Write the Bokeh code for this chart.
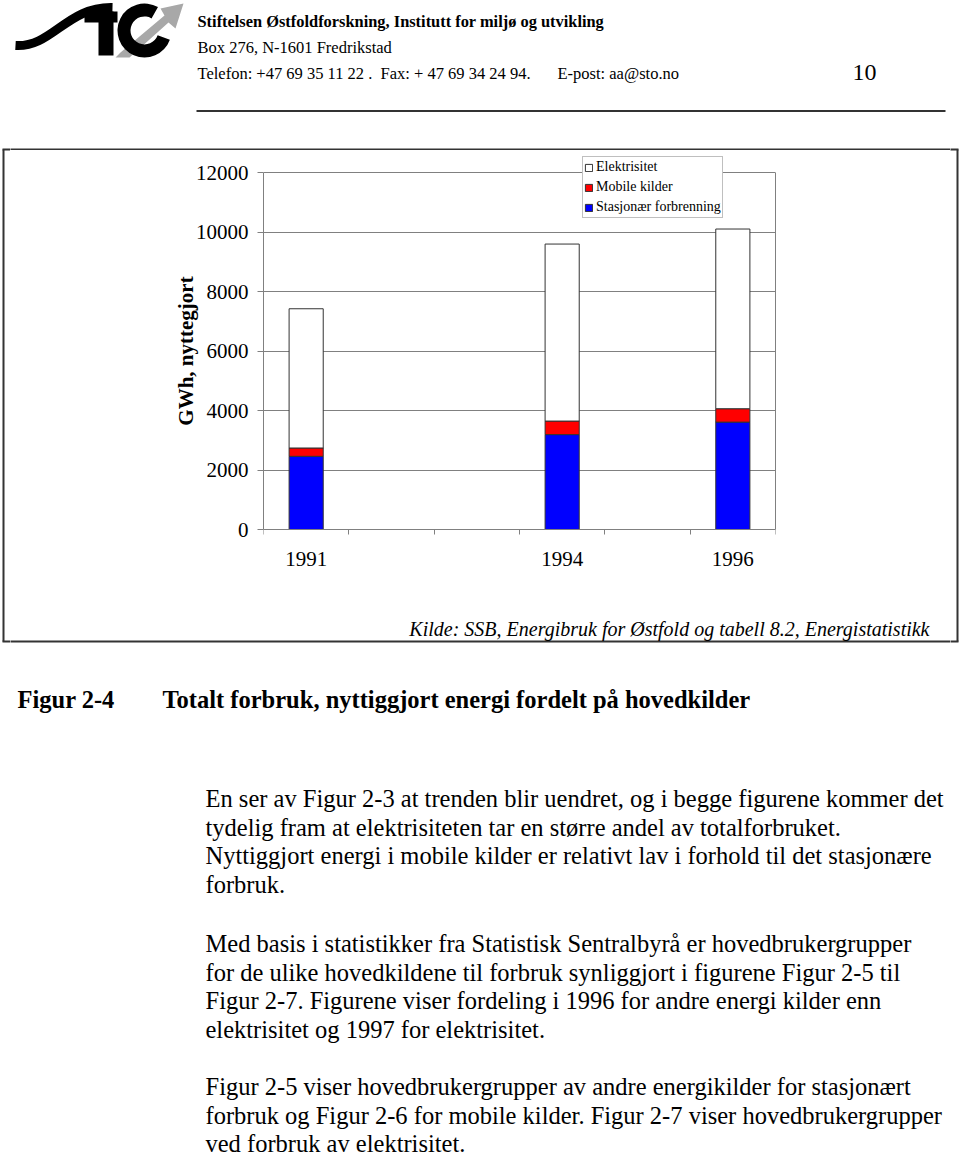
import numpy as np
from bokeh.plotting import figure
from bokeh.models import Range1d, FixedTicker, Legend, LegendItem, ColumnDataSource, LinearAxis
from bokeh.layouts import column, row
from bokeh.embed import file_html
from bokeh.resources import INLINE
from bokeh.core.properties import value

# ---------------- data ----------------
years = [1991, 1994, 1996]
x_tick_labels = ["1991", "1994", "1996"]
stasjonaer = [2460, 3190, 3610]
mobile = [280, 455, 450]
elektrisitet = [4680, 5950, 6040]
series_keys = ["stasjonaer", "mobile", "elektrisitet"]
series_labels = ["Stasjonær forbrenning", "Mobile kilder", "Elektrisitet"]
series_colors = ["#0000FF", "#FF0000", "#FFFFFF"]
y_ticks = [0, 2000, 4000, 6000, 8000, 10000, 12000]
y_axis_title = "GWh, nyttegjort"
source_note = "Kilde: SSB, Energibruk for Østfold og tabell 8.2, Energistatistikk"

header_lines = [
    "Stiftelsen Østfoldforskning, Institutt for miljø og utvikling",
    "Box 276, N-1601 Fredrikstad",
]
contact_parts = ["Telefon: +47  69 35 11 22 .", "Fax:  + 47 69 34 24 94.", "E-post:  aa@sto.no"]
page_number = "10"
fig_label = "Figur 2-4"
fig_title = "Totalt forbruk, nyttiggjort energi fordelt på hovedkilder"
paragraphs = [
    ["En ser av Figur 2-3 at trenden blir uendret, og i begge figurene kommer det",
     "tydelig fram at elektrisiteten tar en større andel av totalforbruket.",
     "Nyttiggjort energi i mobile kilder er relativt lav i forhold til det stasjonære",
     "forbruk."],
    ["Med basis i statistikker fra Statistisk Sentralbyrå er hovedbrukergrupper",
     "for de ulike hovedkildene til forbruk synliggjort i figurene Figur 2-5 til",
     "Figur 2-7. Figurene viser fordeling i 1996 for andre energi kilder enn",
     "elektrisitet og 1997 for elektrisitet."],
    ["Figur 2-5 viser hovedbrukergrupper av andre energikilder for stasjonært",
     "forbruk og Figur 2-6 for mobile kilder. Figur 2-7 viser hovedbrukergrupper",
     "ved forbruk av elektrisitet."],
]

SERIF = "Liberation Serif"
W = 960
H = 1157
SIDE = 10              # width of the narrow side columns that carry the box edges
MID_W = W - 2 * SIDE
BOX_TOP = 149          # page y of the upper edge of the framed box
BOX_BOTTOM = 641       # page y of the lower edge of the framed box
BOX_LEFT = 3
BOX_RIGHT = 957
CHART_TOP = 150        # page y where the chart figure starts
CHART_BOTTOM = 600     # page y where the chart figure ends
FRAME_TOP = 153        # drawing frame (legend reaches above the plot area)
FRAME_BOTTOM = 548     # drawing frame extends equally below, x axis pinned at 0
PLOT_TOP = 172         # plot area top (12000)
PLOT_BOTTOM = 529      # plot area bottom (0)
PLOT_LEFT = 263
PLOT_RIGHT = 775
GRAY = "#808080"
DARK = "#333333"


def blank(w, h, x0, y0):
    f = figure(width=w, height=h, x_range=Range1d(x0, x0 + w), y_range=Range1d(y0 + h, y0),
               x_axis_location=None, y_axis_location=None, toolbar_location=None,
               output_backend="svg", min_border=0)
    f.grid.visible = False
    f.outline_line_color = None
    f.background_fill_color = "white"
    f.border_fill_color = "white"
    return f


# ---------------- side columns with the box edges ----------------
left_side = blank(SIDE, H, 0, 0)
left_side.segment(x0=[BOX_LEFT, BOX_LEFT - 1, BOX_LEFT - 1], y0=[BOX_TOP, BOX_TOP, BOX_BOTTOM],
                  x1=[BOX_LEFT, SIDE + 2, SIDE + 2], y1=[BOX_BOTTOM, BOX_TOP, BOX_BOTTOM],
                  line_color=DARK, line_width=2)
right_side = blank(SIDE, H, W - SIDE, 0)
right_side.segment(x0=[BOX_RIGHT, W - SIDE - 2, W - SIDE - 2], y0=[BOX_TOP, BOX_TOP, BOX_BOTTOM],
                   x1=[BOX_RIGHT, BOX_RIGHT + 1, BOX_RIGHT + 1], y1=[BOX_BOTTOM, BOX_TOP, BOX_BOTTOM],
                   line_color=DARK, line_width=2)

# ---------------- header ----------------
top = blank(MID_W, CHART_TOP, SIDE, 0)
# logo (decorative)
top.bezier(x0=[15], y0=[45], x1=[112], y1=[7], cx0=[52], cy0=[47], cx1=[66], cy1=[6],
           line_color="black", line_width=9)
top.quad(left=[84], right=[117], top=[11], bottom=[22], fill_color="black", line_color=None)
top.quad(left=[98], right=[113], top=[11], bottom=[55], fill_color="black", line_color=None)
top.patch(x=[115, 129, 168, 175, 183, 160, 164, 120], y=[57, 57, 22, 28, 3, 8, 15, 52],
          fill_color="#A8A8A8", line_color=None)
top.annular_wedge(x=[144], y=[30], inner_radius=14, outer_radius=27, start_angle=60,
                  end_angle=340, start_angle_units="deg", end_angle_units="deg",
                  fill_color="black", line_color=None)
top.text(x=[197], y=[21], text=[header_lines[0]], text_font=value(SERIF), text_font_size="16.4px",
         text_font_style="bold", text_baseline="middle", text_color="black")
top.text(x=[197], y=[47], text=[header_lines[1]], text_font=value(SERIF), text_font_size="16.5px",
         text_baseline="middle", text_color="black")
top.text(x=[197, 380, 557], y=[73, 73, 73], text=contact_parts, text_font=value(SERIF),
         text_font_size="16.5px", text_baseline="middle", text_color="black")
top.text(x=[864], y=[72], text=[page_number], text_font=value(SERIF), text_font_size="24px",
         text_align="center", text_baseline="middle", text_color="black")
top.segment(x0=[196], y0=[110.5], x1=[945], y1=[110.5], line_color=DARK, line_width=2)
top.segment(x0=[SIDE - 2], y0=[BOX_TOP], x1=[W - SIDE + 2], y1=[BOX_TOP], line_color=DARK, line_width=2)

# ---------------- chart ----------------
src = ColumnDataSource(dict(year=years, stasjonaer=stasjonaer, mobile=mobile, elektrisitet=elektrisitet))
chart_h = CHART_BOTTOM - CHART_TOP
per_px = (y_ticks[-1] - y_ticks[0]) / (PLOT_BOTTOM - PLOT_TOP)
y_start = y_ticks[0] - (FRAME_BOTTOM - PLOT_BOTTOM) * per_px
y_end = y_ticks[-1] + (PLOT_TOP - FRAME_TOP) * per_px
p = figure(width=MID_W, height=chart_h,
           x_range=Range1d(min(years) - 0.5, max(years) + 0.5),
           y_range=Range1d(y_start, y_end),
           toolbar_location=None, output_backend="svg",
           min_border_left=PLOT_LEFT - SIDE, min_border_right=(W - SIDE) - PLOT_RIGHT,
           min_border_top=FRAME_TOP - CHART_TOP, min_border_bottom=CHART_BOTTOM - FRAME_BOTTOM)
p.background_fill_color = "white"
p.border_fill_color = "white"
p.outline_line_color = None

rs = p.vbar_stack(series_keys, x="year", width=0.4, source=src,
                  fill_color=series_colors, line_color=DARK, line_width=1)

# x axis line with category separators, pinned at 0
boundaries = [y - 0.5 for y in range(min(years), max(years) + 2)]
p.xaxis.fixed_location = y_ticks[0]
p.xaxis.ticker = FixedTicker(ticks=[], minor_ticks=boundaries)
p.xaxis.major_tick_in = 0
p.xaxis.major_tick_out = 0
p.xaxis.minor_tick_in = 0
p.xaxis.minor_tick_out = 5
p.xaxis.minor_tick_line_color = GRAY
p.xaxis.axis_line_color = GRAY
p.xaxis.major_label_standoff = 0
p.xaxis.major_label_text_font_size = "0px"

# category labels in the panel below the frame
x_labels_axis = LinearAxis(ticker=FixedTicker(ticks=years),
                           major_label_overrides={y: lab for y, lab in zip(years, x_tick_labels)},
                           axis_line_color=None, major_tick_line_color=None, minor_tick_line_color=None,
                           major_tick_in=0, major_tick_out=0, minor_tick_in=0, minor_tick_out=0,
                           major_label_standoff=3, major_label_text_font=SERIF,
                           major_label_text_font_size="21px", major_label_text_color="black")
p.add_layout(x_labels_axis, "below")

p.yaxis.ticker = FixedTicker(ticks=y_ticks)
p.yaxis.bounds = (y_ticks[0], y_ticks[-1])
p.yaxis.axis_line_color = GRAY
p.yaxis.major_tick_line_color = GRAY
p.yaxis.major_tick_in = 0
p.yaxis.major_tick_out = 6
p.yaxis.minor_tick_in = 0
p.yaxis.minor_tick_out = 0
p.yaxis.major_label_text_font = SERIF
p.yaxis.major_label_text_font_size = "21px"
p.yaxis.major_label_text_color = "black"
p.yaxis.major_label_standoff = 9
p.yaxis.axis_label = y_axis_title
p.yaxis.axis_label_text_font = SERIF
p.yaxis.axis_label_text_font_style = "bold"
p.yaxis.axis_label_text_font_size = "21px"
p.yaxis.axis_label_text_color = "black"
p.yaxis.axis_label_standoff = -5

# right edge of the plot area
right_edge = LinearAxis(ticker=FixedTicker(ticks=[]), bounds=(y_ticks[0], y_ticks[-1]),
                        axis_line_color=GRAY, major_tick_line_color=None, minor_tick_line_color=None,
                        major_label_text_font_size="0px")
p.add_layout(right_edge, "right")

p.xgrid.visible = False
p.ygrid.ticker = FixedTicker(ticks=y_ticks)
p.ygrid.grid_line_color = GRAY
p.ygrid.grid_line_width = 1

legend = Legend(items=[LegendItem(label=series_labels[i], renderers=[rs[i]]) for i in (2, 1, 0)],
                location=(319, FRAME_BOTTOM - 218))
legend.border_line_color = GRAY
legend.border_line_width = 1
legend.background_fill_color = "white"
legend.background_fill_alpha = 1
legend.label_text_font = SERIF
legend.label_text_font_size = "14px"
legend.label_text_color = "black"
legend.glyph_width = 9
legend.glyph_height = 9
legend.label_standoff = 3
legend.label_height = 18
legend.padding = 1
legend.spacing = 2
legend.margin = 0
p.add_layout(legend)

# ---------------- lower part: box end, caption, body text ----------------
bottom = blank(MID_W, H - CHART_BOTTOM, SIDE, CHART_BOTTOM)
bottom.segment(x0=[SIDE - 2], y0=[BOX_BOTTOM], x1=[W - SIDE + 2], y1=[BOX_BOTTOM], line_color=DARK, line_width=2)
bottom.text(x=[929], y=[628], text=[source_note], text_font=value(SERIF), text_font_size="20px",
            text_font_style="italic", text_align="right", text_baseline="middle", text_color="black")
bottom.text(x=[17, 162], y=[699, 699], text=[fig_label, fig_title], text_font=value(SERIF),
            text_font_size="24.5px", text_font_style="bold", text_baseline="middle", text_color="black")
para_starts = [798, 943, 1086]
line_step = 28.7
px, py, pt = [], [], []
for start, lines in zip(para_starts, paragraphs):
    for i, ln in enumerate(lines):
        px.append(205)
        py.append(start + i * line_step)
        pt.append(ln)
bottom.text(x=px, y=py, text=pt, text_font=value(SERIF), text_font_size="24.5px",
            text_baseline="middle", text_color="black")

layout = row(left_side, column(top, column(p), bottom), right_side)

with open("out.html", "w") as f:
    f.write(file_html(layout, INLINE))
